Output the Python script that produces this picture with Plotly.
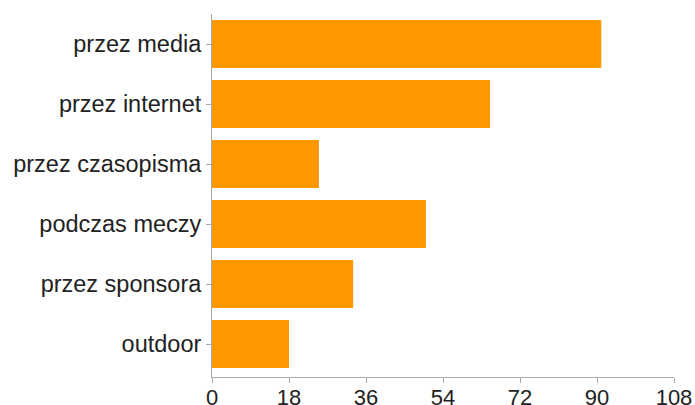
import plotly.graph_objects as go

categories = ["przez media", "przez internet", "przez czasopisma", "podczas meczy", "przez sponsora", "outdoor"]
values = [91, 65, 25, 50, 33, 18]
x_ticks = [0, 18, 36, 54, 72, 90, 108]

fig = go.Figure(go.Bar(
    x=values,
    y=categories,
    orientation="h",
    marker=dict(color="#FF9900", line=dict(width=0)),
    width=0.8,
))

fig.update_layout(
    width=695, height=405,
    margin=dict(l=212, r=21, t=14, b=28, autoexpand=False),
    paper_bgcolor="white", plot_bgcolor="white",
    font=dict(family="Liberation Sans, Arial, sans-serif", color="#222222", size=22),
    showlegend=False,
)
fig.update_xaxes(
    range=[0, 108], tickvals=x_ticks, ticktext=[str(t) for t in x_ticks],
    showgrid=False, zeroline=False, showline=True, linecolor="#AAAAAA", linewidth=1,
    ticks="outside", ticklen=5, tickcolor="#AAAAAA",
    tickfont=dict(size=22), automargin=False, ticklabelstandoff=-4,
)
fig.update_yaxes(
    categoryorder="array", categoryarray=categories,
    range=[5.55, -0.5],
    showgrid=False, zeroline=False, showline=True, linecolor="#AAAAAA", linewidth=1,
    ticks="outside", ticklen=5, tickcolor="#AAAAAA",
    tickfont=dict(size=23.5), automargin=False,
)

fig.write_html(
    "out.html",
    config={"displayModeBar": False},
    post_script="document.body.style.margin='0';document.body.style.overflow='hidden';",
)
